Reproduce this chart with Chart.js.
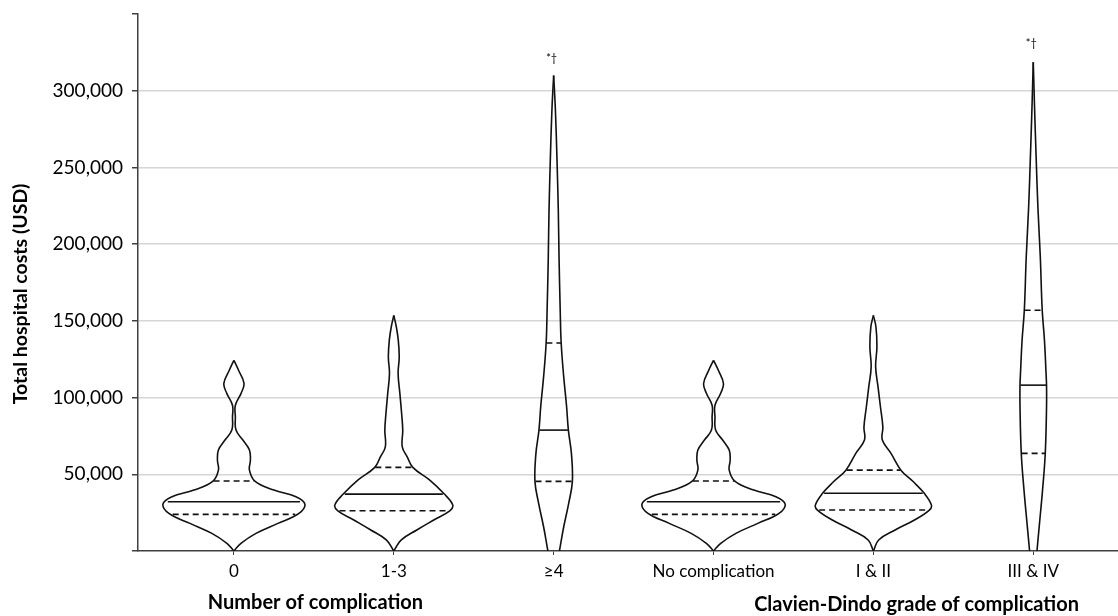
<!DOCTYPE html>
<html>
<head>
<meta charset="utf-8">
<script src="https://cdn.jsdelivr.net/npm/chart.js@4.4.0/dist/chart.umd.min.js"></script>
<style>
  body { margin: 0; background: #fff; }
  #caixa { width: 1118px; height: 616px; }
</style>
</head>
<body>
<div id="caixa"><canvas id="graficoViolino"></canvas></div>
<script>
const categorias = ['0', '1-3', '≥4', 'No complication', 'I & II', 'III & IV'];
const yTicks = [50000, 100000, 150000, 200000, 250000, 300000];

// contorno de cada violino: nivel de custo (de cima p/ baixo) e meia largura em unidades de categoria
const custo0 = [124300, 117800, 109200, 102600, 95000, 87500, 78800, 72300, 65800, 59200, 52700, 45600, 39700, 35400, 30600, 24500, 18000, 11500, 5000, 0];
const largura0 = [0, .029, .063, .044, .009, .009, .013, .056, .097, .103, .097, .131, .25, .388, .444, .407, .275, .138, .044, 0];

const custo13 = [153600, 146000, 137400, 126500, 115700, 102700, 89600, 78800, 67900, 61400, 54500, 46200, 37100, 29900, 26200, 20200, 13700, 7200, 0];
const largura13 = [0, .016, .028, .034, .027, .038, .049, .056, .053, .084, .119, .225, .316, .369, .35, .25, .144, .047, 0];

const custo4 = [309900, 287100, 254500, 222000, 189400, 156900, 135600, 113500, 94000, 78800, 63600, 45400, 31000, 15800, 0];
const largura4 = [0, .011, .021, .029, .034, .041, .047, .063, .081, .092, .111, .117, .094, .063, .036];

const custoSem = [124300, 117800, 109200, 102600, 95000, 87500, 78800, 72300, 65800, 59200, 52700, 45600, 39700, 35400, 30600, 24500, 18000, 11500, 5000, 0];
const larguraSem = [0, .03, .062, .044, .009, .009, .013, .057, .098, .104, .098, .133, .252, .39, .448, .41, .277, .14, .045, 0];

const custoI = [153600, 146000, 133000, 120000, 107000, 94000, 80900, 72300, 63600, 52700, 45100, 37600, 29900, 26700, 20200, 13700, 7200, 0];
const larguraI = [0, .016, .022, .014, .029, .044, .059, .056, .11, .172, .25, .318, .363, .35, .257, .136, .033, 0];

const custoIII = [318500, 289200, 256700, 224100, 191600, 156900, 137400, 115700, 108100, 94000, 63600, 39700, 18000, 0];
const larguraIII = [0, .008, .018, .029, .044, .056, .07, .08, .083, .083, .075, .058, .039, .023];

const q1 = [23900, 26200, 45400, 23900, 26700, 63600];
const mediana = [32100, 37100, 78800, 32100, 37600, 108100];
const q3 = [45600, 54500, 135600, 45600, 52700, 156900];

const marcas = ['', '', '*†', '', '', '*†'];
const topoMarca = [0, 0, 321000, 0, 0, 331000];

const violinos = [
  [custo0, largura0], [custo13, largura13], [custo4, largura4],
  [custoSem, larguraSem], [custoI, larguraI], [custoIII, larguraIII]
];

function larguraEm(custos, larguras, v) {
  for (let k = 0; k < custos.length - 1; k++) {
    if (v <= custos[k] && v >= custos[k + 1]) {
      const t = (custos[k] - v) / (custos[k] - custos[k + 1]);
      return larguras[k] + t * (larguras[k + 1] - larguras[k]);
    }
  }
  return 0;
}

const contorno = { showLine: true, pointRadius: 0, borderColor: '#111', borderWidth: 1.6, tension: 0.4, fill: false };
const datasets = [];

violinos.forEach(([custos, larguras], i) => {
  const centro = i + 1;
  datasets.push({ ...contorno, data: custos.map((c, k) => ({ x: centro + larguras[k], y: c })) });
  datasets.push({ ...contorno, data: custos.map((c, k) => ({ x: centro - larguras[k], y: c })) });
  [[q1[i], true], [mediana[i], false], [q3[i], true]].forEach(([v, tracejado]) => {
    const w = larguraEm(custos, larguras, v) * 0.97;
    datasets.push({
      ...contorno, tension: 0,
      borderDash: tracejado ? [6, 4] : [],
      data: [{ x: centro - w, y: v }, { x: centro + w, y: v }]
    });
  });
});

const textos = {
  id: 'textos',
  afterDraw(chart) {
    const { ctx, scales: { x, y } } = chart;
    ctx.save();
    ctx.fillStyle = '#000';
    ctx.textAlign = 'center';
    ctx.textBaseline = 'middle';

    ctx.font = 'bold 20px Lato';
    ctx.fillText('Number of complication', x.getPixelForValue(1.51), 603);
    ctx.fillText('Clavien-Dindo grade of complication', x.getPixelForValue(5.27), 605);

    ctx.font = '11px Lato';
    marcas.forEach((m, i) => {
      if (m) ctx.fillText(m, x.getPixelForValue(i + 1) - 2, y.getPixelForValue(topoMarca[i]));
    });

    ctx.translate(21, 294);
    ctx.rotate(-Math.PI / 2);
    ctx.font = 'bold 19.5px Lato';
    ctx.fillText('Total hospital costs (USD)', 0, 0);
    ctx.restore();
  }
};

new Chart(document.getElementById('graficoViolino'), {
  type: 'scatter',
  data: { datasets },
  options: {
    responsive: true,
    maintainAspectRatio: false,
    animation: false,
    layout: { padding: { top: 14, right: 0, left: 0, bottom: 0 } },
    plugins: {
      legend: { display: false },
      tooltip: { enabled: false }
    },
    scales: {
      x: {
        type: 'linear',
        min: 0.4,
        max: 6.53,
        afterBuildTicks: scale => { scale.ticks = categorias.map((c, i) => ({ value: i + 1 })); },
        afterFit: scale => { scale.height = 65; scale.paddingLeft = 0; scale.paddingRight = 0; },
        border: { color: '#404040', width: 1.5 },
        grid: { drawOnChartArea: false, color: '#404040', tickLength: 4 },
        ticks: {
          autoSkip: false,
          maxRotation: 0,
          padding: 6,
          color: '#000',
          font: { family: 'Lato', size: 17 },
          callback: v => categorias[v - 1]
        }
      },
      y: {
        min: 0,
        max: 350000,
        afterFit: scale => { scale.width = 138; scale.paddingTop = 0; scale.paddingBottom = 0; },
        border: { color: '#404040', width: 1.5 },
        grid: {
          color: c => (yTicks.includes(c.tick.value) ? '#d6d6d6' : 'rgba(0,0,0,0)'),
          lineWidth: 1.5,
          tickColor: '#404040',
          tickLength: 6
        },
        ticks: {
          stepSize: 50000,
          padding: 9,
          color: '#000',
          font: { family: 'Lato', size: 19 },
          callback: v => (yTicks.includes(v) ? v.toLocaleString('en-US') : '')
        }
      }
    }
  },
  plugins: [textos]
});
</script>
</body>
</html>
